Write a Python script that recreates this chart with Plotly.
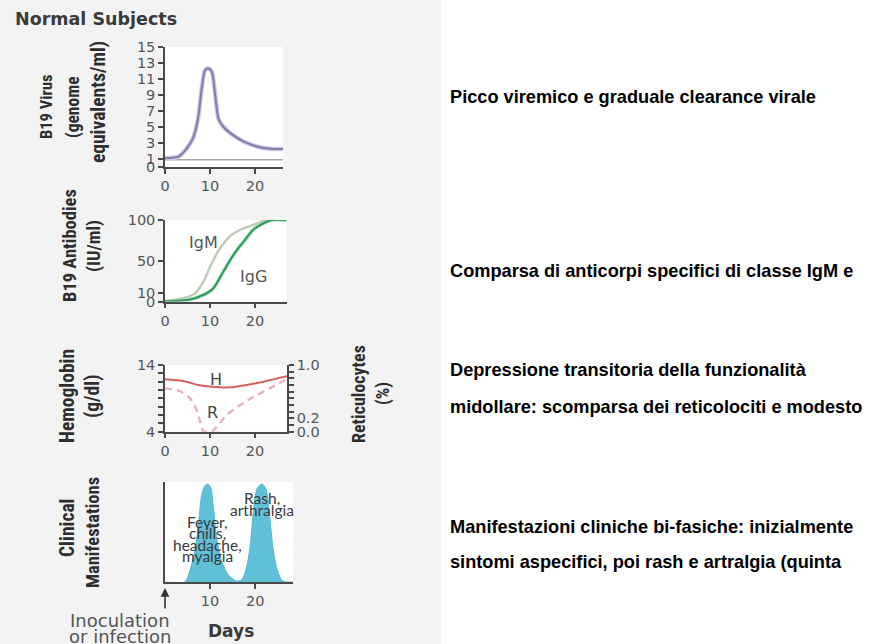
import plotly.graph_objects as go

W, H = 871, 644

# ---- data -------------------------------------------------------------
# B19 viraemia (log genome equivalents/ml) over days since infection
virus_days = [0, 3, 4.8, 6.3, 7.4, 8.1, 8.9, 9.6, 10.4, 11.1, 11.9, 13, 15.2, 17.4, 20.4, 23.3, 26.2]
virus_load = [1.1, 1.3, 2.3, 3.7, 6.3, 9.6, 12.1, 12.3, 11.9, 9.2, 6.0, 5.0, 3.95, 3.2, 2.56, 2.27, 2.25]
detection_days = [0, 26.2]
detection_level = [0.9, 0.9]

# B19 antibodies (IU/ml)
igm_days = [0, 4.1, 6.7, 8.5, 10.4, 12.2, 14.4, 16.7, 19.6, 22.6, 27]
igm_level = [0.6, 4, 10, 24, 47, 65, 80, 88, 94, 100, 100]
igg_days = [0, 5.6, 8.5, 10.7, 13, 15.2, 17.4, 19.6, 21.9, 23.7, 27]
igg_level = [0, 2.5, 8, 16, 37, 57, 73, 88, 96, 100, 100]

# Haemoglobin (g/dl) and reticulocytes (%)
hb_days = [0, 4, 7.4, 10.4, 14.4, 18.1, 21.9, 27.1]
hb_level = [11.86, 11.6, 11.0, 10.75, 10.65, 11.0, 11.5, 12.3]
retic_days = [0, 3.3, 5.6, 7, 7.8, 8.5, 10.4, 11.5, 13.7, 16.7, 19.6, 23.3, 27.1]
retic_level = [0.65, 0.61, 0.5, 0.33, 0.15, 0.01, 0.0, 0.075, 0.25, 0.4, 0.52, 0.65, 0.79]

# Clinical manifestations (relative intensity)
clin_days = [0, 4.4, 5.6, 6.7, 7.4, 8.1, 8.7, 9.4, 10.1, 10.7, 11.5, 12.6, 14.1, 15.9,
             17, 18.2, 18.9, 19.6, 20.4, 21.5, 22.4, 23.2, 23.9, 24.8, 25.9, 26.7, 28.4]
clin_level = [0, 0, 0.13, 0.34, 0.58, 0.88, 0.97, 1.0, 0.97, 0.78, 0.44, 0.21, 0.07, 0.01,
              0.02, 0.17, 0.37, 0.71, 0.95, 1.0, 0.95, 0.68, 0.37, 0.14, 0.02, 0, 0]

day_ticks = [0, 10, 20]
virus_ticks = [0, 1, 3, 5, 7, 9, 11, 13, 15]
antibody_ticks = [0, 10, 50, 100]

notes = [
    ["Picco viremico e graduale clearance virale"],
    ["Comparsa di anticorpi specifici di classe IgM e"],
    ["Depressione transitoria della funzionalità",
     "midollare: scomparsa dei reticolociti e modesto"],
    ["Manifestazioni cliniche bi-fasiche: inizialmente",
     "sintomi aspecifici, poi rash e artralgia (quinta"],
]


# ---- helpers ----------------------------------------------------------
def xdom(left, right):
    return [left / W, right / W]


def ydom(top, bottom):
    return [1 - bottom / H, 1 - top / H]


def px(x):
    return x / W


def py(y):
    return 1 - y / H


AXC = "#4a4a4a"
TICKFONT = dict(family="DejaVu Sans", size=14.5, color="#555")
TITLEFONT = "Liberation Sans Narrow, Arial Narrow, Roboto Condensed, Liberation Sans, sans-serif"

axis_common = dict(showline=True, linecolor=AXC, linewidth=1.5, ticks="outside",
                   ticklen=5, tickwidth=1.5, tickcolor=AXC, showgrid=False,
                   zeroline=False, tickfont=TICKFONT, fixedrange=True, automargin=False)

fig = go.Figure()

# panel 1: virus
fig.add_trace(go.Scatter(x=detection_days, y=detection_level, mode="lines",
                         line=dict(color="#a8a8a8", width=1.6), xaxis="x", yaxis="y"))
fig.add_trace(go.Scatter(x=virus_days, y=virus_load, mode="lines",
                         line=dict(color="#cdc6e2", width=4.5, shape="spline", smoothing=0.7),
                         xaxis="x", yaxis="y"))
fig.add_trace(go.Scatter(x=virus_days, y=virus_load, mode="lines",
                         line=dict(color="#8679ab", width=2, shape="spline", smoothing=0.7),
                         xaxis="x", yaxis="y"))

# panel 2: antibodies
fig.add_trace(go.Scatter(x=igm_days, y=igm_level, mode="lines",
                         line=dict(color="#bccab6", width=2.4, shape="spline", smoothing=0.7),
                         xaxis="x2", yaxis="y2"))
fig.add_trace(go.Scatter(x=igg_days, y=igg_level, mode="lines",
                         line=dict(color="#a6dcb8", width=3.6, shape="spline", smoothing=0.7),
                         xaxis="x2", yaxis="y2"))
fig.add_trace(go.Scatter(x=igg_days, y=igg_level, mode="lines",
                         line=dict(color="#2f9a58", width=2, shape="spline", smoothing=0.7),
                         xaxis="x2", yaxis="y2"))

# panel 3: haemoglobin and reticulocytes
fig.add_trace(go.Scatter(x=hb_days, y=hb_level, mode="lines",
                         line=dict(color="#d9605c", width=2, shape="spline", smoothing=0.8),
                         xaxis="x3", yaxis="y3"))
fig.add_trace(go.Scatter(x=retic_days, y=retic_level, mode="lines",
                         line=dict(color="#e7b1c0", width=2.4, dash="7px,5px",
                                   shape="spline", smoothing=0.6),
                         xaxis="x3", yaxis="y4"))

# panel 4: clinical manifestations
fig.add_trace(go.Scatter(x=clin_days, y=clin_level, mode="lines", fill="tozeroy",
                         fillcolor="#5fc0d8",
                         line=dict(color="#56b8d2", width=1, shape="spline", smoothing=0.8),
                         xaxis="x4", yaxis="y5"))

hb_ticks = [4 + 1.25 * i for i in range(9)]
retic_ticks = [round(0.1 * i, 1) for i in range(11)]

fig.update_layout(
    width=W, height=H, autosize=False,
    margin=dict(l=0, r=0, t=0, b=0, pad=0, autoexpand=False),
    paper_bgcolor="#f3f3f3", plot_bgcolor="#ffffff", showlegend=False,
    xaxis=dict(domain=xdom(165, 283), range=[0, 26.2], tickvals=day_ticks,
               anchor="y", **axis_common),
    yaxis=dict(domain=ydom(47, 167), range=[0, 15], tickvals=virus_ticks,
               anchor="x", **axis_common),
    xaxis2=dict(domain=xdom(165, 286.5), range=[0, 27], tickvals=day_ticks,
                anchor="y2", **axis_common),
    yaxis2=dict(domain=ydom(220, 301.5), range=[0, 100], tickvals=antibody_ticks,
                anchor="x2", **axis_common),
    xaxis3=dict(domain=xdom(165, 287), range=[0, 27.1], tickvals=day_ticks,
                anchor="y3", **axis_common),
    yaxis3=dict(domain=ydom(365, 431.7), range=[4, 14], tickvals=hb_ticks,
                ticktext=["4"] + [""] * 7 + ["14"], anchor="x3", **axis_common),
    yaxis4=dict(domain=ydom(365, 431.7), range=[0, 1], tickvals=retic_ticks,
                ticktext=["0.0", "", "0.2"] + [""] * 7 + ["1.0"],
                overlaying="y3", side="right", anchor="x3", **axis_common),
    xaxis4=dict(domain=xdom(165, 293), range=[0, 28.4], tickvals=[10, 20],
                anchor="y5", **axis_common),
    yaxis5=dict(domain=ydom(482, 582), range=[0, 1.02], showticklabels=False,
                anchor="x4", **{k: v for k, v in axis_common.items() if k != "ticks"},
                ticks=""),
)

# white right-hand area for the notes
fig.add_shape(type="rect", xref="paper", yref="paper", x0=px(441), x1=1, y0=0, y1=1,
              fillcolor="#ffffff", line=dict(width=0), layer="below")

ann = []


def label(text, x, y, size=14, color="#2e2e2e", family=TITLEFONT, angle=0,
          xanchor="center", bold=False):
    if bold:
        text = "<b>" + text + "</b>"
    ann.append(dict(text=text, x=px(x), y=py(y), xref="paper", yref="paper",
                    showarrow=False, textangle=angle, xanchor=xanchor, yanchor="middle",
                    borderpad=0, font=dict(size=size, color=color, family=family)))


label("Normal Subjects", 14, 19, size=17.5, color="#3a3a3a",
      family="DejaVu Sans, sans-serif", xanchor="left", bold=True)

# rotated axis titles
label("B19 Virus", 46, 107, size=16.5, angle=-90, bold=True)
label("(genome", 73, 107, size=17.5, angle=-90, bold=True)
label("equivalents/ml)", 98, 102, size=19.5, angle=-90, bold=True)
label("B19 Antibodies", 70, 246, size=18.5, angle=-90, bold=True)
label("(IU/ml)", 94, 246, size=18.5, angle=-90, bold=True)
label("Hemoglobin", 67, 396, size=19.5, angle=-90, bold=True)
label("(g/dl)", 92, 396, size=19.5, angle=-90, bold=True)
label("Reticulocytes", 358, 394, size=18, angle=-90, bold=True)
label("(%)", 383, 394, size=18, angle=-90, bold=True)
label("Clinical", 67, 528, size=19.5, angle=-90, bold=True)
label("Manifestations", 93, 533, size=18.5, angle=-90, bold=True)

# curve labels
label("IgM", 203, 242, size=16, color="#555", family="DejaVu Sans, sans-serif")
label("IgG", 253, 276, size=16, color="#555", family="DejaVu Sans, sans-serif")
label("H", 216, 379, size=16, color="#444", family="DejaVu Sans, sans-serif")
label("R", 212, 412, size=16, color="#444", family="DejaVu Sans, sans-serif")

# clinical annotations
CLIN = "Lato, Liberation Sans Narrow, sans-serif"
for t, y in [("Rash,", 498), ("arthralgia", 510)]:
    label(t, 262, y, size=15.5, color="#3a3a3a", family=CLIN)
for t, y in [("Fever,", 522), ("chills,", 533), ("headache,", 545), ("myalgia", 556)]:
    label(t, 207, y, size=15.5, color="#3a3a3a", family=CLIN)

label("Inoculation", 120, 620, size=18, color="#555", family="DejaVu Sans")
label("or infection", 120, 636, size=18, color="#555", family="DejaVu Sans")
label("Days", 231, 631, size=17, color="#3a3a3a", family="DejaVu Sans", bold=True)

# arrow marking inoculation
ann.append(dict(x=px(165), y=py(588), xref="paper", yref="paper", text="",
                showarrow=True, ax=0, ay=22, arrowhead=2, arrowsize=1.1,
                arrowwidth=1.6, arrowcolor="#333"))

# explanatory notes
note_rows = [[97], [271], [370, 407], [527, 562]]
for lines, ys in zip(notes, note_rows):
    for t, y in zip(lines, ys):
        label(t, 449, y, size=18.2, color="#000", family="Liberation Sans, Arial, sans-serif",
              xanchor="left", bold=True)

fig.update_layout(annotations=ann)
fig.write_html(
    "out.html",
    post_script="document.body.style.margin='0';document.body.style.overflow='hidden';",
)
